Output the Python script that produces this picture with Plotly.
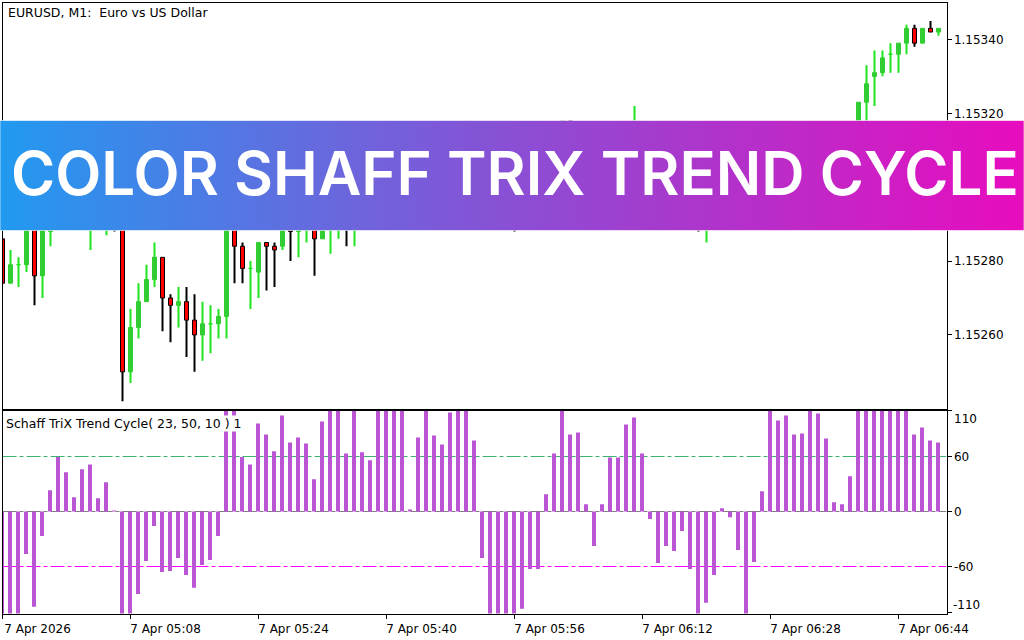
import plotly.graph_objects as go

# prices are in points above 1.15200
opens = [86, 74, 79, 79, 90, 76, 88, 90, 94, 97, 95, 92, 97, 96, 100, 96,
         50, 62, 69, 75, 81, 70, 68, 69, 64, 60, 63, 63, 65, 95, 84, 78,
         77, 85, 84, 84, 92, 88, 92, 95, 86, 94, 96, 99, 96, 100, 102, 105,
         103, 106, 108, 106, 109, 111, 109, 112, 110, 113, 115, 112, 110, 107, 104, 101,
         99, 94, 97, 100, 103, 107, 111, 118, 114, 112, 114, 111, 113, 115, 112, 114,
         116, 113, 110, 107, 105, 102, 104, 100, 95, 98, 100, 102, 100, 97, 95, 98,
         100, 103, 105, 104, 106, 108, 106, 109, 107, 106, 108, 112, 123, 130, 131, 136,
         136, 139, 143, 139, 143, 142]
highs = [86, 83, 81, 91, 91, 92, 92, 95, 99, 98, 100, 99, 102, 102, 101, 97,
         67, 74, 79, 85, 81, 71, 73, 73, 71, 69, 68, 67, 96, 96, 85, 80,
         85, 85, 85, 94, 93, 94, 96, 96, 95, 98, 100, 100, 101, 103, 106, 106,
         107, 110, 109, 110, 112, 112, 113, 113, 115, 118, 118, 113, 111, 108, 105, 102,
         100, 98, 101, 105, 108, 112, 118, 118, 115, 115, 116, 114, 116, 116, 116, 122,
         117, 114, 111, 108, 106, 105, 105, 101, 99, 102, 103, 104, 101, 98, 99, 101,
         104, 107, 106, 107, 110, 109, 110, 110, 108, 109, 113, 123, 133, 137, 137, 139,
         139, 144, 144, 143, 145, 143]
lows = [74, 74, 73, 77, 68, 70, 84, 89, 92, 93, 94, 83, 95, 87, 88, 42,
        47, 59, 69, 73, 61, 58, 62, 54, 50, 53, 55, 59, 59, 74, 74, 67,
        70, 72, 73, 83, 80, 81, 85, 76, 86, 82, 86, 84, 84, 98, 100, 101,
        102, 104, 105, 105, 107, 108, 107, 108, 109, 111, 110, 108, 105, 102, 99, 96,
        88, 92, 95, 99, 102, 105, 110, 112, 110, 111, 109, 110, 111, 110, 111, 112,
        111, 108, 105, 103, 100, 100, 98, 88, 85, 96, 99, 98, 95, 92, 93, 97,
        98, 102, 102, 103, 105, 104, 105, 105, 104, 105, 106, 110, 115, 122, 130, 131,
        131, 136, 138, 139, 142, 141]
closes = [74, 79, 79, 90, 76, 90, 90, 94, 97, 95, 98, 97, 100, 100, 96, 50,
          62, 69, 75, 81, 70, 68, 69, 64, 60, 63, 63, 65, 95, 84, 78, 78,
          85, 84, 83, 92, 88, 92, 95, 86, 94, 96, 99, 96, 100, 102, 105, 103,
          106, 108, 106, 109, 111, 109, 112, 110, 113, 115, 112, 110, 107, 104, 101, 99,
          94, 97, 100, 103, 107, 111, 118, 114, 112, 114, 111, 113, 115, 112, 114, 116,
          113, 110, 107, 105, 102, 104, 100, 95, 98, 100, 102, 100, 97, 95, 98, 100,
          103, 105, 104, 106, 108, 106, 109, 107, 106, 108, 112, 123, 128, 131, 135, 136,
          139, 143, 139, 143, 142, 143]

# histogram, bars past +-110 run off the pane
stc = [-125, -125, -125, -46.4, -104, -26.8, 23.2, 59.4, 42.8, 15.6, 46, 51.4, 14.5, 31.9, 0.4, -125,
       -125, -89.9, -54, -15.9, -65.9, -64.9, -50.7, -69.2, -83.3, -58.3, -52.9, -26.8, 125, 125, 59.4, 51.4,
       96, 84, 65.6, 104.7, 75.4, 80.8, 74.3, 35.1, 98.2, 125, 125, 63.4, 125, 64.5, 55.8, 125,
       125, 125, 125, 1.1, 80.8, 125, 83, 73.2, 108, 125, 125, 77.5, -50.7, -125, -125, -125,
       -125, -106, -62.7, -62.7, 18.8, 63.4, 125, 84, 86.2, 8, -37.7, 8, 59, 59, 94.9, 102.5,
       63.4, -8.3, -56.2, -37.7, -43, -21.4, -62.7, -125, -99.6, -69.2, 3.6, -6.2, -42, -125, -55, 22,
       125, 99.3, 104.7, 84, 85, 125, 107, 79.7, 10.1, 8, 38.4, 125, 125, 125, 125, 125,
       125, 125, 84, 91.7, 77.5, 75.4]

time_ticks = [0, 16, 32, 48, 64, 80, 96, 112]
time_labels = ["7 Apr 2026", "7 Apr 05:08", "7 Apr 05:24", "7 Apr 05:40",
               "7 Apr 05:56", "7 Apr 06:12", "7 Apr 06:28", "7 Apr 06:44"]
# 1.15300 sits behind the banner
price_ticks = [60, 80, 120, 140]
price_labels = ["1.15260", "1.15280", "1.15320", "1.15340"]
level_ticks = [110, 60, 0, -60, -110]
level_labels = ["", "60", "0", "-60", ""]

W, H = 1024, 640
TICK_FONT = dict(family="DejaVu Sans", size=12, color="black")
TITLE_FONT = dict(family="DejaVu Sans", size=12.5, color="black")
GREEN_BODY = "#32CD32"
GREEN_WICK = "#1CE61C"
ORCHID = "#BA55D3"
DASHDOT = "14px,3px,4px,3px"


def px_x(v):
    return v / W


def px_y(v):
    return 1 - v / H


x = list(range(len(opens)))
is_up = [c >= o for o, c in zip(opens, closes)]
is_doji = [c == o for o, c in zip(opens, closes)]

fig = go.Figure()

# wicks first so the bodies sit on top
fig.add_trace(go.Bar(
    x=x,
    y=[h - l for h, l in zip(highs, lows)],
    base=lows,
    width=1 / 8,
    marker=dict(color=[GREEN_WICK if u else "black" for u in is_up], line=dict(width=0)),
    xaxis="x",
    yaxis="y",
))
fig.add_trace(go.Bar(
    x=x,
    y=[c - o for o, c in zip(opens, closes)],
    base=opens,
    width=4 / 8,
    marker=dict(
        color=[GREEN_BODY if u else "#FF0000" for u in is_up],
        line=dict(
            width=1,
            color=[GREEN_WICK if d else (GREEN_BODY if u else "black") for u, d in zip(is_up, is_doji)],
        ),
    ),
    xaxis="x",
    yaxis="y",
))
fig.add_trace(go.Bar(
    x=x,
    y=stc,
    width=4 / 8,
    offset=-2.5 / 8,
    marker=dict(color=ORCHID, line=dict(width=0)),
    xaxis="x2",
    yaxis="y2",
))

# banner across the whole page, y axis here runs in page pixels
fig.add_trace(go.Scatter(
    x=[0, W, W, 0, 0],
    y=[120.5, 120.5, 230.5, 230.5, 120.5],
    mode="lines",
    line=dict(color="rgba(255,255,255,0.6)", width=1),
    fill="toself",
    fillgradient=dict(
        type="horizontal",
        colorscale=[[0, "#219AF0"], [0.33, "#6A67DD"], [0.68, "#AC36CC"], [1, "#E80CBE"]],
    ),
    hoverinfo="skip",
    xaxis="x3",
    yaxis="y3",
))

annotations = [
    dict(text="EURUSD, M1:\u00a0\u00a0Euro vs US Dollar", x=px_x(7), y=px_y(13), font=TITLE_FONT),
    dict(text="Schaff TriX Trend Cycle( 23, 50, 10 ) 1", x=px_x(5), y=px_y(423.5),
         font=TITLE_FONT, bgcolor="white"),
    dict(text="110", x=px_x(953), y=px_y(419), font=TICK_FONT),
    dict(text="-110", x=px_x(952), y=px_y(605), font=TICK_FONT),
    dict(text="COLOR SHAFF TRIX TREND CYCLE", x=px_x(9.5), y=px_y(173),
         font=dict(family="Inter", size=60, weight=600, color="white")),
]
for a in annotations:
    a.update(xref="paper", yref="paper", xanchor="left", yanchor="middle", showarrow=False, borderpad=0)

shapes = [
    dict(type="line", xref="x2", yref="y2", x0=0, x1=118, y0=lv, y1=lv, layer="below",
         line=dict(color=col, width=1, dash=DASHDOT))
    for lv, col in [(60, "#3CB371"), (0, "#808080"), (-60, "#FF00FF")]
]

frame = dict(showline=True, linecolor="black", linewidth=1, mirror=True, showgrid=False, zeroline=False)

fig.update_layout(
    width=W,
    height=H,
    margin=dict(l=0, r=0, t=0, b=0, pad=0, autoexpand=False),
    paper_bgcolor="white",
    plot_bgcolor="rgba(0,0,0,0)",
    showlegend=False,
    barmode="overlay",
    annotations=annotations,
    shapes=shapes,
    xaxis=dict(frame, domain=[px_x(2.5), px_x(946.5)], range=[0, 118], anchor="y", showticklabels=False, ticks=""),
    yaxis=dict(frame, domain=[px_y(408.5), px_y(2.5)], range=[40.07, 150], anchor="x", side="right",
               tickvals=price_ticks, ticktext=price_labels, ticks="outside", ticklen=4, tickcolor="black",
               tickfont=TICK_FONT),
    xaxis2=dict(frame, domain=[px_x(2.5), px_x(946.5)], range=[0, 118], anchor="y2",
                tickvals=time_ticks, ticktext=time_labels, ticks="outside", ticklen=4, tickcolor="black",
                tickfont=TICK_FONT, ticklabelshift=35, tickangle=0),
    yaxis2=dict(frame, domain=[px_y(613.5), px_y(410.5)], range=[-111.27, 110.18], anchor="x2", side="right",
                tickvals=level_ticks, ticktext=level_labels, ticks="outside", ticklen=4, tickcolor="black",
                tickfont=TICK_FONT),
    xaxis3=dict(domain=[0, 1], range=[0, W], anchor="y3", visible=False),
    yaxis3=dict(domain=[0, 1], range=[H, 0], anchor="x3", visible=False),
)

# drop the page's default body margin so the figure fills the window
fig.write_html("out.html", config=dict(displayModeBar=False), post_script="document.body.style.margin='0';")
